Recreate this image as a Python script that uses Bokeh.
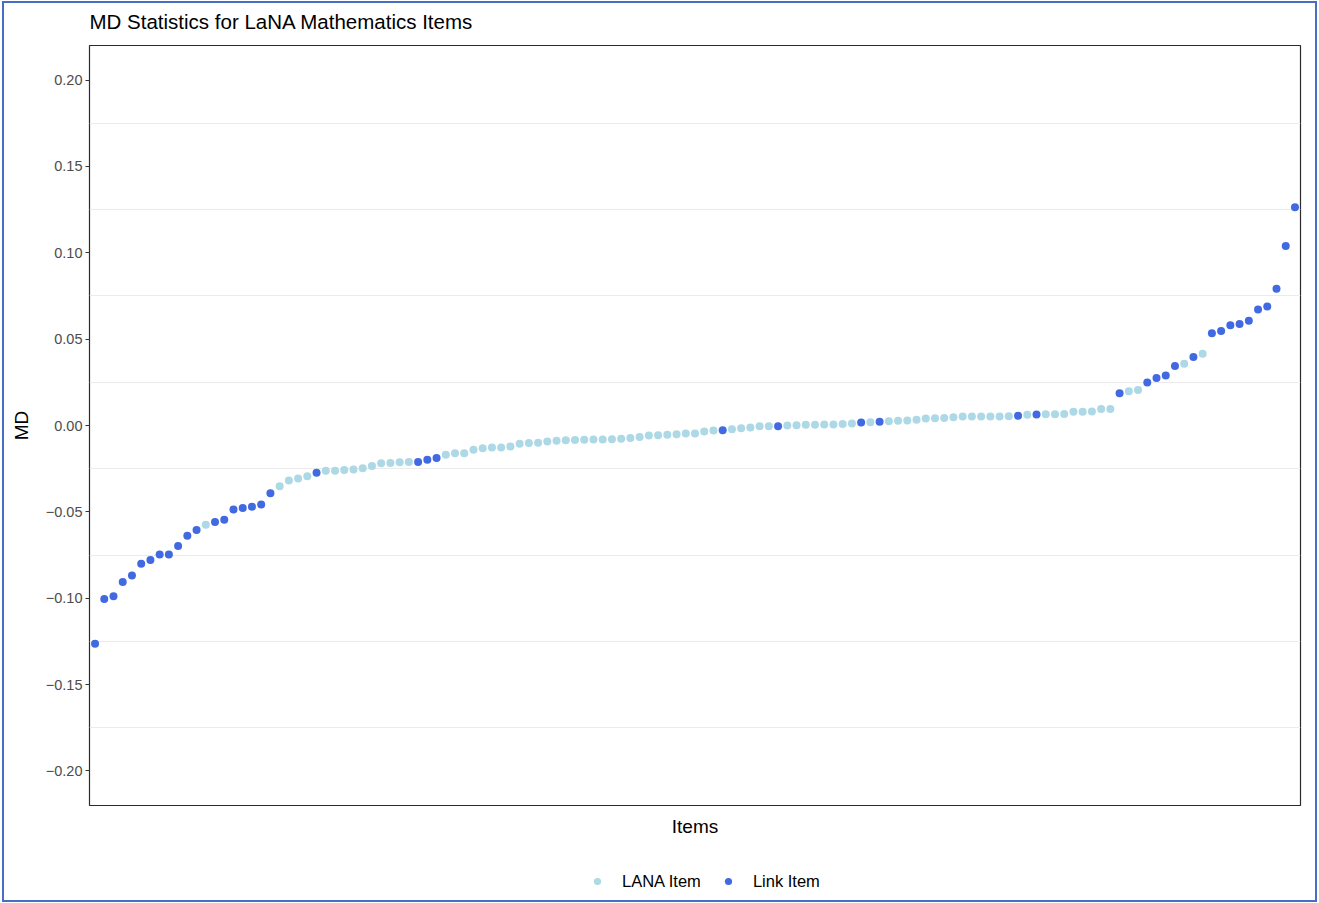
from bokeh.plotting import figure
from bokeh.layouts import column
from bokeh.models import (FixedTicker, CustomJSTickFormatter, Legend, LegendItem,
                          ColumnDataSource, Label)
from bokeh.embed import file_html
from bokeh.resources import INLINE

# MD value of each item, sorted ascending
md_values = [
    -0.1263, -0.1004, -0.0989, -0.0906, -0.0868, -0.0801, -0.0778, -0.0747, -0.0747, -0.0697,
    -0.0638, -0.0605, -0.0574, -0.0559, -0.0545, -0.0486, -0.0478, -0.0470, -0.0457, -0.0392,
    -0.0351, -0.0319, -0.0307, -0.0294, -0.0273, -0.0262, -0.0262, -0.0257, -0.0255, -0.0248,
    -0.0234, -0.0219, -0.0217, -0.0213, -0.0211, -0.0211, -0.0198, -0.0188, -0.0170, -0.0161,
    -0.0161, -0.0140, -0.0131, -0.0127, -0.0127, -0.0121, -0.0106, -0.0102, -0.0100, -0.0092,
    -0.0088, -0.0086, -0.0084, -0.0082, -0.0081, -0.0081, -0.0079, -0.0077, -0.0073, -0.0067,
    -0.0058, -0.0056, -0.0054, -0.0050, -0.0047, -0.0047, -0.0035, -0.0029, -0.0027, -0.0021,
    -0.0016, -0.0012, -0.0004, -0.0004, -0.0004, 0.0000, 0.0002, 0.0004, 0.0004, 0.0006,
    0.0006, 0.0008, 0.0012, 0.0017, 0.0019, 0.0021, 0.0025, 0.0027, 0.0029, 0.0033,
    0.0040, 0.0042, 0.0043, 0.0048, 0.0052, 0.0052, 0.0052, 0.0052, 0.0052, 0.0054,
    0.0056, 0.0062, 0.0063, 0.0065, 0.0065, 0.0067, 0.0079, 0.0079, 0.0081, 0.0095,
    0.0096, 0.0187, 0.0198, 0.0205, 0.0249, 0.0275, 0.0290, 0.0344, 0.0357, 0.0396,
    0.0416, 0.0534, 0.0547, 0.0580, 0.0588, 0.0607, 0.0672, 0.0689, 0.0791, 0.1039,
    0.1263,
]

# item type of each point: K = Link Item, A = LANA Item
type_codes = (
    "KKKKKKKKKKKK" "A" "KKKKKKK" "AAAA" "K" "AAAAAAAAAA" "KKK"
    "AAAAAAAAAAAAAAAAAAAAAAAAAAAAAA" "K" "AAAAA" "K" "AAAAAAAA" "K" "A" "K"
    "AAAAAAAAAAAAAA" "K" "A" "K" "AAAAAAAA" "K" "AA" "KKKK" "A" "K" "A" "KKKKKKKKKK"
)
type_labels = {"A": "LANA Item", "K": "Link Item"}
legend_order = ["LANA Item", "Link Item"]
type_colors = {"LANA Item": "#ADD8E6", "Link Item": "#4169E1"}

y_ticks = [-0.20, -0.15, -0.10, -0.05, 0.00, 0.05, 0.10, 0.15, 0.20]
y_grid = [-0.175, -0.125, -0.075, -0.025, 0.025, 0.075, 0.125, 0.175]

title_text = "MD Statistics for LaNA Mathematics Items"
x_title = "Items"
y_title = "MD"

item_types = [type_labels[c] for c in type_codes]
item_index = list(range(1, len(md_values) + 1))
n = len(md_values)

FONT = "Liberation Sans"
W = 1311
LEFT, RIGHT = 85, 15
FRAME_W = W - LEFT - RIGHT


def strip(height, y_range):
    f = figure(width=W, height=height, x_range=(0, FRAME_W), y_range=y_range,
               output_backend="svg", toolbar_location=None,
               x_axis_location=None, y_axis_location=None,
               min_border_left=LEFT, min_border_right=RIGHT,
               min_border_top=0, min_border_bottom=0)
    f.outline_line_color = None
    f.grid.visible = False
    f.background_fill_color = "white"
    f.border_fill_color = "white"
    return f


# ---- title strip ----
pt = strip(40, (0, 40))
pt.add_layout(Label(x=0, y=22.5, text=title_text, text_font=FONT, text_font_size="20.5px",
                    text_color="black", text_baseline="alphabetic", text_align="left"))

# ---- main plot ----
p = figure(
    width=W, height=807,
    x_range=(0.4, n + 0.6), y_range=(-0.22, 0.22),
    output_backend="svg", toolbar_location=None,
    min_border_left=LEFT, min_border_right=RIGHT, min_border_top=2, min_border_bottom=45,
)
p.background_fill_color = "white"
p.border_fill_color = "white"
p.outline_line_color = "#2b2b2b"
p.outline_line_width = 1.2

p.xgrid.visible = False
p.ygrid.ticker = FixedTicker(ticks=y_grid)
p.ygrid.grid_line_color = "#ebebeb"
p.ygrid.grid_line_width = 1

yax = p.yaxis[0]
yax.ticker = FixedTicker(ticks=y_ticks)
yax.formatter = CustomJSTickFormatter(code="""
    if (Math.abs(tick) < 1e-9) return "0.00";
    return (tick < 0 ? "\u2212" : "") + Math.abs(tick).toFixed(2);
""")
yax.axis_line_color = None
yax.major_tick_line_color = "#333333"
yax.major_tick_out = 4
yax.major_tick_in = 0
yax.minor_tick_line_color = None
yax.major_label_text_font = FONT
yax.major_label_text_font_size = "14.5px"
yax.major_label_text_color = "#4d4d4d"
yax.major_label_standoff = 3
yax.axis_label = y_title
yax.axis_label_text_font = FONT
yax.axis_label_text_font_size = "19px"
yax.axis_label_text_font_style = "normal"
yax.axis_label_text_color = "black"
yax.axis_label_standoff = 11

xax = p.xaxis[0]
xax.ticker = FixedTicker(ticks=[])
xax.axis_line_color = None
xax.major_tick_line_color = None
xax.minor_tick_line_color = None
xax.axis_label = x_title
xax.axis_label_text_font = FONT
xax.axis_label_text_font_size = "19px"
xax.axis_label_text_font_style = "normal"
xax.axis_label_text_color = "black"
xax.axis_label_standoff = 10

sources = {}
for label in legend_order:
    xs = [i for i, t in zip(item_index, item_types) if t == label]
    ys = [v for v, t in zip(md_values, item_types) if t == label]
    sources[label] = ColumnDataSource(data=dict(x=xs, y=ys))
    p.scatter("x", "y", source=sources[label], size=8,
              fill_color=type_colors[label], line_color=None)

# ---- legend strip (its y range lies far above the data, so only the legend shows) ----
pl = strip(50, (10, 11))
legend_items = []
for label in legend_order:
    r = pl.scatter("x", "y", source=sources[label], size=8,
                   fill_color=type_colors[label], line_color=None)
    legend_items.append(LegendItem(label=label, renderers=[r]))

legend = Legend(items=legend_items, orientation="horizontal", location=(499, 9))
legend.label_text_font = FONT
legend.label_text_font_size = "16.5px"
legend.label_text_color = "black"
legend.border_line_color = None
legend.background_fill_alpha = 0
legend.glyph_width = 18
legend.glyph_height = 20
legend.label_standoff = 16
legend.spacing = 18
legend.margin = 0
legend.padding = 0
pl.add_layout(legend, "center")

layout = column(pt, p, pl, spacing=0)
layout.styles = {"border": "2px solid #4a6cc4", "box-sizing": "content-box",
                 "margin-left": "2px", "margin-top": "1px"}

open("out.html", "w").write(file_html(layout, INLINE))
